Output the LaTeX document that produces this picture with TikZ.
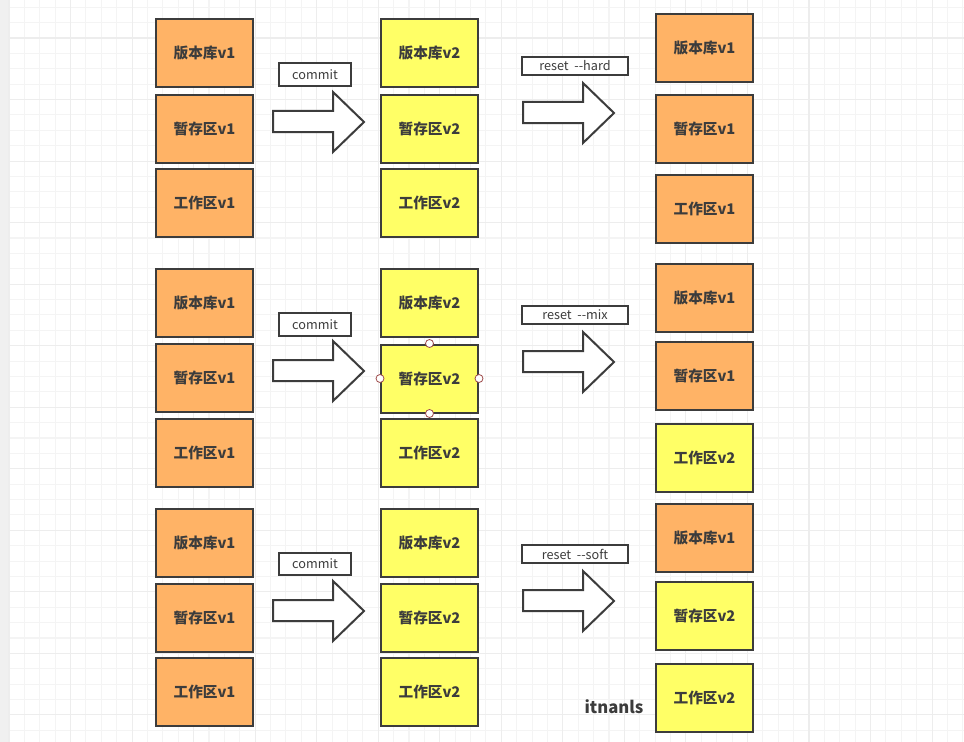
\documentclass[tikz,border=0pt]{standalone}
\usepackage{fontspec}
\setmainfont{Noto Sans CJK SC}
\newfontfamily\labelfont{Noto Sans CJK SC}
\definecolor{boxline}{HTML}{3C3C3C}
\definecolor{oldfill}{HTML}{FFB366}
\definecolor{newfill}{HTML}{FFFF66}
\definecolor{gridminor}{HTML}{F4F4F4}
\definecolor{gridmajor}{HTML}{EDEDED}
\definecolor{stripgray}{HTML}{F0F0F0}
\definecolor{handlered}{HTML}{9E4A4A}

\tikzset{every picture/.style={line width=1.5pt}}
\tikzset{
  area/.style={draw=boxline, minimum width=72.75pt, minimum height=51pt, inner sep=0pt, font=\bfseries\fontsize{11}{13}\selectfont, text=boxline},
  old/.style={area, fill=oldfill},
  new/.style={area, fill=newfill},
  cmdbox/.style={draw=boxline, fill=white, line width=1.2pt, inner sep=0pt, font=\labelfont\fontsize{9.5}{11}\selectfont, text=boxline},
  blockarrow/.style={draw=boxline, fill=white, line width=1.5pt, line join=miter},
  handle/.style={circle, draw=handlered, fill=white, line width=0.6pt, inner sep=0pt, minimum size=6pt}
}

\begin{document}
\begin{tikzpicture}[x=0.75pt,y=0.75pt,yscale=-1,xscale=1]
\useasboundingbox (0,0) rectangle (964,742);

% background grid
\fill[white] (0,0) rectangle (964,742);
\foreach \k in {0,...,62} {
  \draw[gridminor, line width=0.8pt] ({9+15.385*\k},0) -- ({9+15.385*\k},742);
  \draw[gridminor, line width=0.8pt] (0,{7.2+15.385*\k}) -- (964,{7.2+15.385*\k});
}
\foreach \k in {0,...,15} {
  \draw[gridmajor, line width=0.8pt] ({9+61.54*\k},0) -- ({9+61.54*\k},742);
  \draw[gridmajor, line width=0.8pt] (0,{38+61.54*\k}) -- (964,{38+61.54*\k});
}
\fill[stripgray] (0,0) rectangle (8,742);

%%%% reset --hard
\node[old] (hrepo1) at (204.5,53) {版本库v1};
\node[old] (hstage1) at (204.5,129) {暂存区v1};
\node[old] (hwork1) at (204.5,203) {工作区v1};
\node[new] (hrepo2) at (429.5,53) {版本库v2};
\node[new] (hstage2) at (429.5,129) {暂存区v2};
\node[new] (hwork2) at (429.5,203) {工作区v2};
\node[old] (hrepo3) at (704.5,48) {版本库v1};
\node[old] (hstage3) at (704.5,129) {暂存区v1};
\node[old] (hwork3) at (704.5,209) {工作区v1};

\node[cmdbox, minimum width=54pt, minimum height=17.25pt] (hcommit) at (315,74.5) {commit};
\node[cmdbox, minimum width=79.5pt, minimum height=13.5pt] (hreset) at (575,66) {reset\ \ --hard};

% Block arrows
\draw[blockarrow] (273,111) -- (333,111) -- (333,92) -- (364,122) -- (333,152) -- (333,132) -- (273,132) -- cycle;
\draw[blockarrow] (523,102) -- (583,102) -- (583,83) -- (614,113) -- (583,143) -- (583,123) -- (523,123) -- cycle;

%%%% reset --mix
\node[old] (mrepo1) at (204.5,303) {版本库v1};
\node[old] (mstage1) at (204.5,378) {暂存区v1};
\node[old] (mwork1) at (204.5,452.5) {工作区v1};
\node[new] (mrepo2) at (429.5,303) {版本库v2};
\node[new] (mstage2) at (429.5,378.5) {暂存区v2};
\node[new] (mwork2) at (429.5,452.5) {工作区v2};
\node[old] (mrepo3) at (704.5,298) {版本库v1};
\node[old] (mstage3) at (704.5,376) {暂存区v1};
\node[new] (mwork3) at (704.5,457.5) {工作区v2};

% selection handles
\node[handle] (mhn) at (mstage2.north) {};
\node[handle] (mhs) at (mstage2.south) {};
\node[handle] (mhw) at (mstage2.west) {};
\node[handle] (mhe) at (mstage2.east) {};

\node[cmdbox, minimum width=54pt, minimum height=17.25pt] (mcommit) at (315,324.5) {commit};
\node[cmdbox, minimum width=79.5pt, minimum height=13.5pt] (mreset) at (575,315) {reset\ \ --mix};

% Block arrows
\draw[blockarrow] (273,360) -- (333,360) -- (333,341) -- (364,371) -- (333,401) -- (333,381) -- (273,381) -- cycle;
\draw[blockarrow] (523,351) -- (583,351) -- (583,332) -- (614,362) -- (583,392) -- (583,372) -- (523,372) -- cycle;

%%%% reset --soft
\node[old] (srepo1) at (204.5,542.5) {版本库v1};
\node[old] (sstage1) at (204.5,618) {暂存区v1};
\node[old] (swork1) at (204.5,692) {工作区v1};
\node[new] (srepo2) at (429.5,542.5) {版本库v2};
\node[new] (sstage2) at (429.5,618) {暂存区v2};
\node[new] (swork2) at (429.5,692) {工作区v2};
\node[old] (srepo3) at (704.5,537.5) {版本库v1};
\node[new] (sstage3) at (704.5,615.5) {暂存区v2};
\node[new] (swork3) at (704.5,697.5) {工作区v2};

\node[cmdbox, minimum width=54pt, minimum height=16.5pt] (scommit) at (315,564) {commit};
\node[cmdbox, minimum width=79.5pt, minimum height=13.5pt] (sreset) at (575,554) {reset\ \ --soft};

% Block arrows
\draw[blockarrow] (273,600) -- (333,600) -- (333,581) -- (364,611) -- (333,641) -- (333,621) -- (273,621) -- cycle;
\draw[blockarrow] (523,590) -- (583,590) -- (583,571) -- (614,601) -- (583,631) -- (583,611) -- (523,611) -- cycle;

% Text Node
\node[font=\bfseries\fontsize{12.5}{14}\selectfont, text=boxline] (author) at (614,707) {itnanls};

\end{tikzpicture}
\end{document}
